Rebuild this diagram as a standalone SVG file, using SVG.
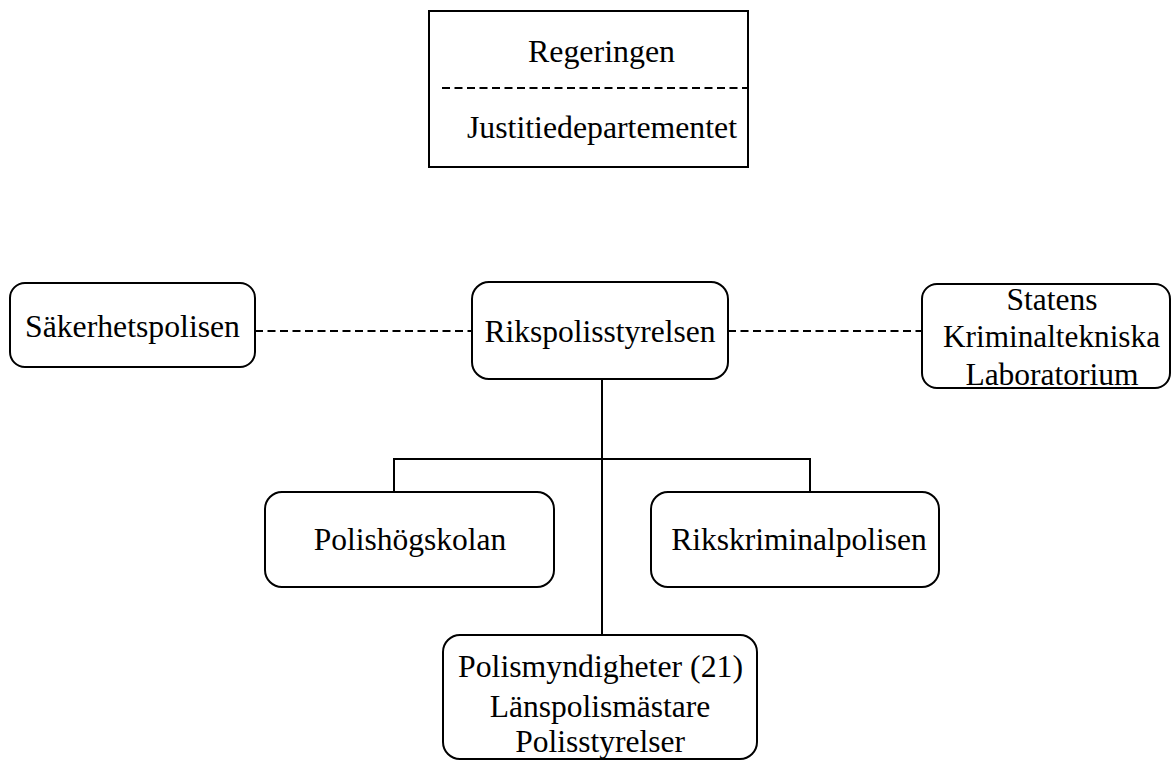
<svg xmlns="http://www.w3.org/2000/svg" width="1172" height="762" viewBox="0 0 1172 762">
<style>
.box{fill:#fff;stroke:#000;stroke-width:2}
.t{font-family:"Liberation Serif","Times New Roman",serif;font-size:31.5px;fill:#000;text-anchor:middle}
.ln{stroke:#000;stroke-width:2;fill:none}
.dash{stroke:#000;stroke-width:2;fill:none;stroke-dasharray:8 4.5}
</style>
<rect width="1172" height="762" fill="#fff"/>
<g id="connectors">
<line class="dash" x1="255" y1="331" x2="472" y2="331"/>
<line class="dash" x1="728" y1="331" x2="922" y2="331"/>
<line class="ln" x1="602" y1="379" x2="602" y2="635"/>
<polyline class="ln" points="394,492 394,459 810,459 810,492"/>
</g>
<g id="regeringen">
<rect class="box" x="429" y="11" width="319" height="156"/>
<line class="dash" x1="442" y1="88" x2="748" y2="88"/>
<text class="t" x="601.5" y="62" textLength="147" lengthAdjust="spacingAndGlyphs">Regeringen</text>
<text class="t" x="602" y="138" textLength="270" lengthAdjust="spacingAndGlyphs">Justitiedepartementet</text>
</g>
<g id="sakerhetspolisen">
<rect class="box" x="10" y="283" width="245" height="84" rx="15"/>
<text class="t" x="132.5" y="337" textLength="215" lengthAdjust="spacingAndGlyphs">Säkerhetspolisen</text>
</g>
<g id="rikspolisstyrelsen">
<rect class="box" x="472" y="282" width="256" height="97" rx="17"/>
<text class="t" x="600" y="342">Rikspolisstyrelsen</text>
</g>
<g id="skl">
<rect class="box" x="922" y="284" width="248" height="104" rx="15"/>
<text class="t" x="1052" y="310">Statens</text>
<text class="t" x="1051.5" y="347" textLength="217" lengthAdjust="spacingAndGlyphs">Kriminaltekniska</text>
<text class="t" x="1052" y="385">Laboratorium</text>
</g>
<g id="polishogskolan">
<rect class="box" x="265" y="492" width="289" height="95" rx="17"/>
<text class="t" x="410" y="550">Polishögskolan</text>
</g>
<g id="rikskriminalpolisen">
<rect class="box" x="651" y="492" width="288" height="95" rx="17"/>
<text class="t" x="799" y="550">Rikskriminalpolisen</text>
</g>
<g id="polismyndigheter">
<rect class="box" x="443" y="635" width="314" height="124" rx="17"/>
<text class="t" x="600.5" y="677" textLength="285" lengthAdjust="spacingAndGlyphs">Polismyndigheter (21)</text>
<text class="t" x="600" y="717">Länspolismästare</text>
<text class="t" x="600" y="752">Polisstyrelser</text>
</g>
</svg>
